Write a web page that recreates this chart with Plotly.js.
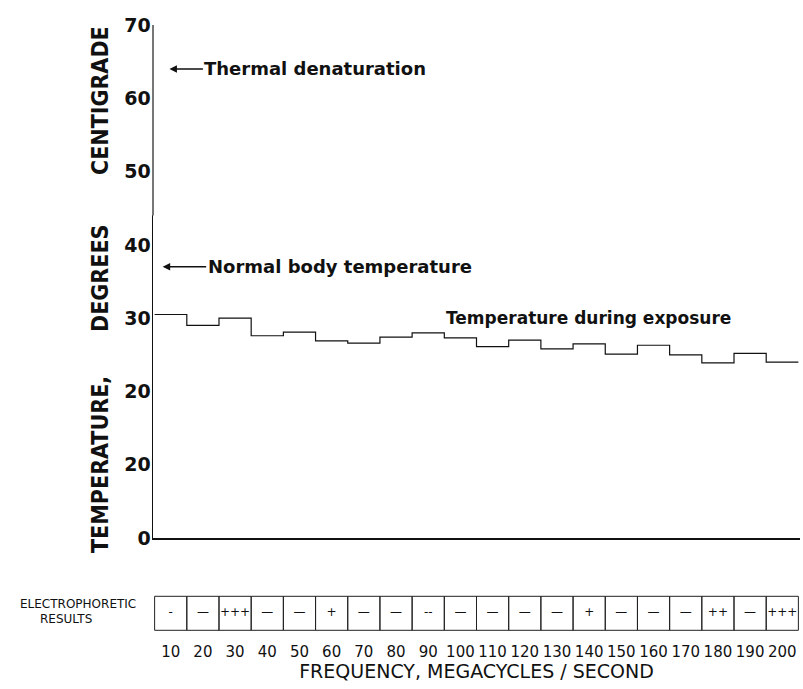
<!DOCTYPE html>
<html>
<head>
<meta charset="utf-8">
<script src="https://cdn.plot.ly/plotly-3.0.1.min.js"></script>
<style>html,body{margin:0;padding:0;background:#fff;}#chart{width:803px;height:689px;}</style>
</head>
<body>
<div id="chart"></div>
<script>
// ---- data ----
const frequencies = [10,20,30,40,50,60,70,80,90,100,110,120,130,140,150,160,170,180,190,200];
const temperatures = [30.5,29.0,30.0,27.6,28.1,26.9,26.6,27.4,28.0,27.3,26.1,27.0,25.8,26.5,25.1,26.3,25.0,23.9,25.2,24.0];
const electrophoreticResults = ["-","—","+++","—","—","+","—","—","--","—","—","—","—","+","—","—","—","++","—","+++"];
const yTickValues = [0,10,20,30,40,50,60,70];
const yTickLabels = ["0","20","20","30","40","50","60","70"];
const xTickLabels = frequencies.map(String);
const thermalDenaturation = 64;
const normalBodyTemp = 37;

// ---- layout helpers ----
const W = 803, H = 689;
const L = 153, R = 3, T = 25, B = 57;
const plotW = W - L - R, plotH = H - T - B;
const bottomPx = H - B;              // 632
const axisPx = 538;                  // main x axis line
const px2paperX = px => (px - L) / plotW;
const px2paperY = py => (bottomPx - py) / plotH;

const halfBin = 5;
const stepX = frequencies.map(f => f - halfBin).concat([frequencies[frequencies.length-1] + halfBin]);
const stepY = temperatures.concat([temperatures[temperatures.length-1]]);

const font = "DejaVu Sans, Liberation Sans, sans-serif";
const condFont = "DejaVu Sans Condensed, Liberation Sans Narrow, DejaVu Sans, sans-serif";

const traces = [
  {
    x: stepX, y: stepY, type: 'scatter', mode: 'lines', xaxis: 'x', yaxis: 'y',
    line: {shape: 'hv', color: '#111', width: 1.2},
    hoverinfo: 'skip', showlegend: false
  },
  {
    x: frequencies, y: frequencies.map(() => 0.5), xaxis: 'x', yaxis: 'y2',
    type: 'scatter', mode: 'text', text: electrophoreticResults,
    textfont: {family: font, size: 12, color: '#111'},
    hoverinfo: 'skip', showlegend: false
  }
];

const shapes = frequencies.map(f => ({
  type: 'rect', xref: 'x', yref: 'y2',
  x0: f - halfBin, x1: f + halfBin, y0: 0, y1: 1,
  line: {color: '#222', width: 1}, fillcolor: 'rgba(0,0,0,0)'
}));
// faded upper part of the temperature axis, as in the scan
shapes.push({type: 'line', xref: 'paper', yref: 'y', x0: 0, x1: 0, y0: 44, y1: 70,
             line: {color: '#777', width: 2}});

function paperText(text, px, py, size, extra) {
  return Object.assign({
    xref: 'paper', yref: 'paper', x: px2paperX(px), y: px2paperY(py),
    xanchor: 'center', yanchor: 'middle', showarrow: false, text: text,
    font: {family: font, size: size, color: '#111'}
  }, extra || {});
}

const titleFont = {family: condFont, size: 23, color: '#111', weight: 'bold'};
const annotations = [
  {xref:'x', yref:'y', x: 9.6, y: thermalDenaturation, ax: 146, ay: 0,
   text: 'Thermal denaturation', showarrow: true, arrowhead: 2, arrowsize: 1, arrowwidth: 1.5, arrowcolor:'#111',
   font: {family: font, size: 18, color: '#111', weight: 'bold'}},
  {xref:'x', yref:'y', x: 7.5, y: normalBodyTemp, ax: 177, ay: 0,
   text: 'Normal body temperature', showarrow: true, arrowhead: 2, arrowsize: 1, arrowwidth: 1.5, arrowcolor:'#111',
   font: {family: font, size: 18, color: '#111', weight: 'bold'}},
  paperText('Temperature during exposure', 588, 318, 17, {font: {family: font, size: 17, color: '#111', weight: 'bold'}}),
  paperText('CENTIGRADE', 100, 101, 23, {textangle: -90, font: titleFont}),
  paperText('DEGREES', 100, 279, 23, {textangle: -90, font: titleFont}),
  paperText('TEMPERATURE,', 100, 465, 23, {textangle: -90, font: titleFont}),
  paperText('ELECTROPHORETIC', 78, 604, 12),
  paperText('RESULTS', 66, 619, 12)
];

const layout = {
  width: W, height: H,
  margin: {l: L, r: R, t: T, b: B},
  paper_bgcolor: '#fff', plot_bgcolor: '#fff',
  showlegend: false,
  xaxis: {
    anchor: 'y', range: [4.5, 205.5], showgrid: false, zeroline: false,
    showline: true, linecolor: '#111', linewidth: 1.5,
    tickmode: 'array', tickvals: frequencies, ticktext: xTickLabels,
    ticks: '', ticklabelstandoff: 99,
    tickfont: {family: font, size: 15, color: '#111'},
    title: {text: 'FREQUENCY, MEGACYCLES / SECOND', standoff: 3,
            font: {family: font, size: 19, color: '#111'}}
  },
  yaxis: {
    domain: [(bottomPx - axisPx) / plotH, 1],
    range: [0, 70], showgrid: false, zeroline: false,
    showline: true, linecolor: '#111', linewidth: 1.5,
    tickmode: 'array', tickvals: yTickValues, ticktext: yTickLabels,
    ticks: '', ticklabelstandoff: -3,
    tickfont: {family: font, size: 19, color: '#111', weight: 'bold'}
  },
  yaxis2: {
    domain: [0, 37.4 / plotH], range: [-0.05, 1.05], anchor: 'free', position: 0,
    visible: false, fixedrange: true
  },
  shapes: shapes,
  annotations: annotations
};

Plotly.newPlot('chart', traces, layout, {staticPlot: true, displayModeBar: false});
</script>
</body>
</html>
